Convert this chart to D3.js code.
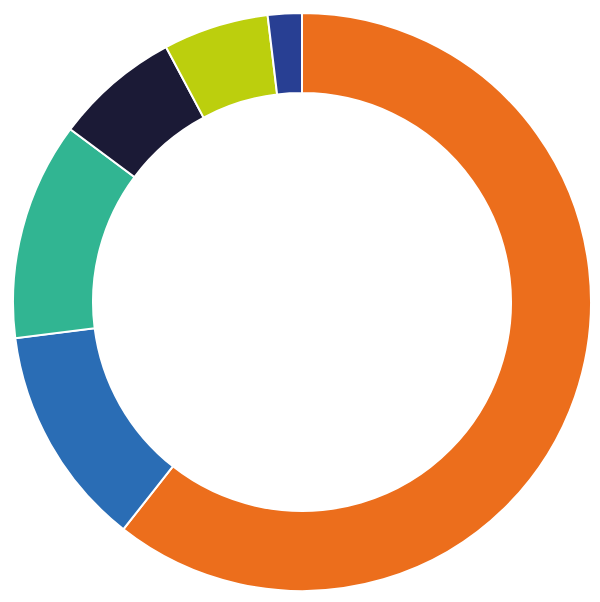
<!DOCTYPE html>
<html>
<head>
<meta charset="utf-8">
<script src="https://cdn.jsdelivr.net/npm/d3@7"></script>
<style>
  body { margin: 0; background: #fff; }
</style>
</head>
<body>
<div id="chart"></div>
<script>
// slice order, clockwise from 12 o'clock
const categories = ["A", "B", "C", "D", "E", "F"];
const values = [60.6, 12.4, 12.2, 7.0, 5.9, 1.9];
const colors = ["#ec6e1c", "#2a6db5", "#31b592", "#1b1a36", "#bccf0d", "#283f93"];

const width = 600;
const height = 602;
const cx = 302, cy = 302;
const outerR = 289, innerR = 209;

const svg = d3.select("#chart").append("svg")
  .attr("width", width)
  .attr("height", height);

const pie = d3.pie().sort(null).value((d) => d.value);
const arc = d3.arc().innerRadius(innerR).outerRadius(outerR);

const data = categories.map((c, i) => ({ name: c, value: values[i], color: colors[i] }));

svg.append("g")
  .attr("transform", `translate(${cx},${cy})`)
  .selectAll("path")
  .data(pie(data))
  .join("path")
  .attr("d", arc)
  .attr("fill", (d) => d.data.color)
  .attr("stroke", "#fff")
  .attr("stroke-width", 2);
</script>
</body>
</html>
